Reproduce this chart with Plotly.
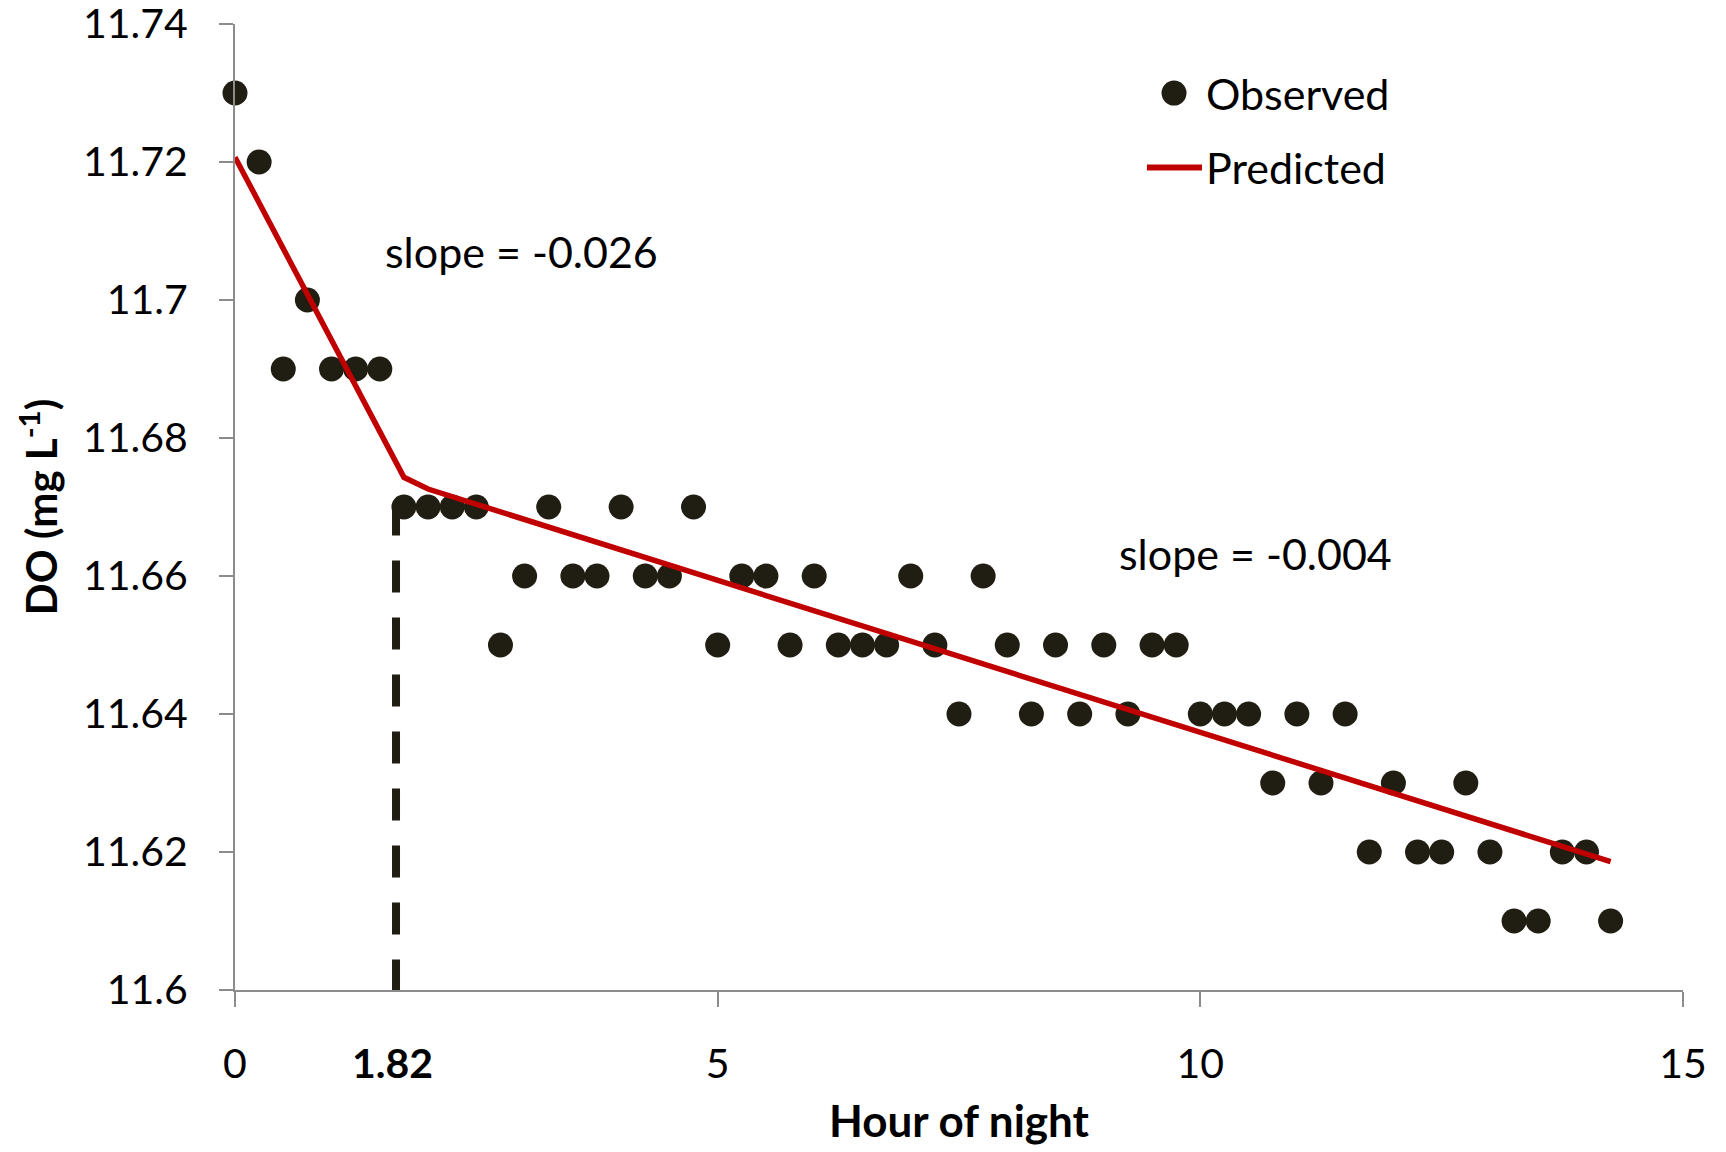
import plotly.graph_objects as go

# Observed DO values every 15 minutes
hours = [i * 0.25 for i in range(58)]
observed = [11.73, 11.72, 11.69, 11.70, 11.69, 11.69, 11.69, 11.67, 11.67, 11.67,
            11.67, 11.65, 11.66, 11.67, 11.66, 11.66, 11.67, 11.66, 11.66, 11.67,
            11.65, 11.66, 11.66, 11.65, 11.66, 11.65, 11.65, 11.65, 11.66, 11.65,
            11.64, 11.66, 11.65, 11.64, 11.65, 11.64, 11.65, 11.64, 11.65, 11.65,
            11.64, 11.64, 11.64, 11.63, 11.64, 11.63, 11.64, 11.62, 11.63, 11.62,
            11.62, 11.63, 11.62, 11.61, 11.61, 11.62, 11.62, 11.61]

pred_hours = [0.0, 1.75, 2.0, 14.25]
predicted = [11.7207, 11.6743, 11.6726, 11.6186]

break_label = "1.82"
break_pos = 1.668
break_top = 11.6705

x_ticks = [0, 5, 10, 15]
y_ticks = [11.6, 11.62, 11.64, 11.66, 11.68, 11.7, 11.72, 11.74]
y_ticktext = ["11.6", "11.62", "11.64", "11.66", "11.68", "11.7", "11.72", "11.74"]

x_range = [0, 15]
y_range = [11.6, 11.74]

FONT = "Lato"
AXIS_COL = "#8c8c8c"
DOT_COL = "#201d12"
RED = "#c00000"

fig = go.Figure()
fig.add_trace(go.Scatter(
    x=hours, y=observed, mode="markers", name="Observed",
    marker=dict(size=25, color=DOT_COL, line=dict(width=0)),
    cliponaxis=False, showlegend=False,
))
fig.add_trace(go.Scatter(
    x=pred_hours, y=predicted, mode="lines", name="Predicted",
    line=dict(color=RED, width=5.5), showlegend=False,
))

# dashed breakpoint marker
fig.add_shape(
    type="line", xref="x domain", yref="y domain",
    x0=break_pos / (x_range[1] - x_range[0]), x1=break_pos / (x_range[1] - x_range[0]),
    y0=(break_top - y_range[0]) / (y_range[1] - y_range[0]), y1=-0.021,
    line=dict(color=DOT_COL, width=8, dash="32px,25px"),
    layer="below",
)

# manual legend (large symbols, as in the reference)
LEG_X_SYM = 0.6485
LEG_X_TXT = 0.669
LEG_Y1 = 0.9285
LEG_Y2 = 0.8515
fig.add_shape(type="circle", xref="paper", yref="paper",
              xsizemode="pixel", ysizemode="pixel",
              xanchor=LEG_X_SYM, yanchor=LEG_Y1,
              x0=-12.5, x1=12.5, y0=-12.5, y1=12.5,
              fillcolor=DOT_COL, line=dict(width=0))
fig.add_shape(type="line", xref="paper", yref="paper",
              x0=0.6298, x1=0.6678, y0=LEG_Y2, y1=LEG_Y2,
              line=dict(color=RED, width=6))
fig.add_annotation(x=LEG_X_TXT, y=LEG_Y1, xref="paper", yref="paper",
                   text="Observed", showarrow=False, xanchor="left", yanchor="middle",
                   font=dict(family=FONT, size=43, color="black"))
fig.add_annotation(x=LEG_X_TXT, y=LEG_Y2, xref="paper", yref="paper",
                   text="Predicted", showarrow=False, xanchor="left", yanchor="middle",
                   font=dict(family=FONT, size=43, color="black"))

fig.add_annotation(x=1.63, y=-0.103, xref="x", yref="paper",
                   text="<b>" + break_label + "</b>", showarrow=False,
                   font=dict(family=FONT, size=41, color="black"))
fig.add_annotation(x=2.97, y=11.707, xref="x", yref="y",
                   text="slope = -0.026", showarrow=False,
                   font=dict(family=FONT, size=43, color="black"))
fig.add_annotation(x=10.57, y=11.6632, xref="x", yref="y",
                   text="slope = -0.004", showarrow=False,
                   font=dict(family=FONT, size=43, color="black"))

# page body has an 8px default margin: size/margins compensate for it
fig.update_layout(
    width=1718, height=1144,
    margin=dict(l=227, r=43, t=16, b=162),
    paper_bgcolor="white", plot_bgcolor="white",
    font=dict(family=FONT, size=41, color="black"),
    showlegend=False,
    xaxis=dict(
        range=x_range, tickvals=x_ticks, showgrid=False, zeroline=False,
        showline=True, linecolor=AXIS_COL, linewidth=2,
        ticks="outside", ticklen=15, tickwidth=2, tickcolor=AXIS_COL,
        tickfont=dict(family=FONT, size=41, color="black"),
        ticklabelstandoff=22, automargin=False, ticklabeloverflow="allow",
        title=dict(text="<b>Hour of night</b>", font=dict(family=FONT, size=44, color="black"), standoff=20),
    ),
    yaxis=dict(
        range=y_range, tickvals=y_ticks, ticktext=y_ticktext,
        showgrid=False, zeroline=False,
        showline=True, linecolor=AXIS_COL, linewidth=2,
        ticks="outside", ticklen=14, tickwidth=2, tickcolor=AXIS_COL,
        tickfont=dict(family=FONT, size=41, color="black"),
        ticklabelstandoff=23, automargin=False, ticklabeloverflow="allow",
        title=dict(text="<b>DO (mg L<sup>-1</sup>)</b>", font=dict(family=FONT, size=42, color="black"), standoff=12),
    ),
)

fig.write_html("out.html")
